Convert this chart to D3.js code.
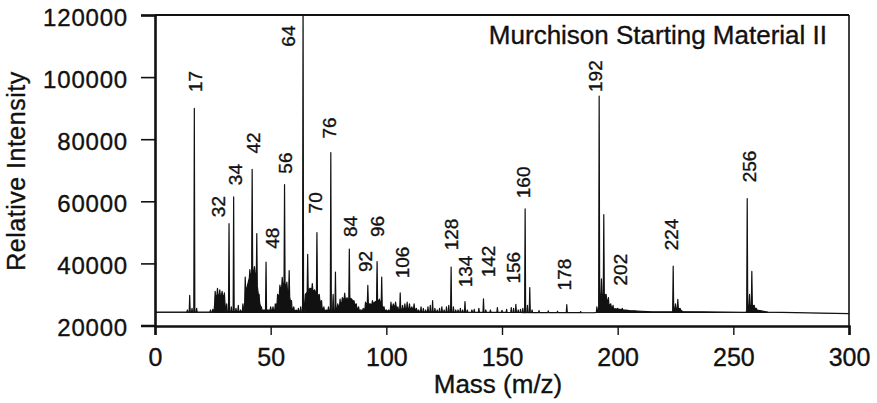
<!DOCTYPE html>
<html>
<head>
<meta charset="utf-8">
<script src="https://cdn.jsdelivr.net/npm/d3@7"></script>
<style>
  html, body { margin: 0; padding: 0; background: #fff; }
  svg { display: block; }
  text { font-family: "Liberation Sans", Arial, Helvetica, sans-serif; fill: #111; stroke: #111; stroke-width: 0.35px; }
</style>
</head>
<body>
<svg id="chart" width="877" height="403"></svg>
<script>
// ---------------- data ----------------
const title = "Murchison Starting Material II";
const xTitle = "Mass (m/z)";
const yTitle = "Relative Intensity";
const xTicks = [0, 50, 100, 150, 200, 250, 300];
const yTicks = [20000, 40000, 60000, 80000, 100000, 120000];

// slowly varying floor of the spectrum (dense unresolved clusters)
const floorMass = [0, 25.5, 26, 27, 28, 29, 30, 30.6, 38.5, 39, 40, 41, 42, 43, 44, 45, 46,
  52, 53, 54, 55, 56, 57, 58, 59, 60, 64.5, 65, 66, 67, 68, 69, 70, 71, 72, 73,
  78, 79, 80, 81, 82, 83, 84, 85, 86, 87, 88, 90.5, 91, 92, 93, 94, 95, 96, 97, 98, 99,
  101.5, 102, 104, 105, 108, 112, 114, 150, 190, 191.5, 192.5, 194.5, 196, 198, 205, 215,
  223.5, 224.5, 226.5, 228, 255.5, 256.5, 258.5, 260, 265, 300];
const floorLevel = [24300, 24300, 29000, 30000, 29500, 30000, 29000, 24500, 24500, 30000, 33000, 36000, 37000, 38000, 34000, 28000, 25000,
  25000, 28000, 31000, 33000, 34000, 32000, 30000, 26000, 24800, 24500, 30000, 31000, 32000, 31500, 31000, 30500, 29000, 26000, 24800,
  25000, 26000, 26500, 28000, 29000, 28000, 29000, 28500, 27500, 26000, 25000, 24800, 26500, 27500, 26500, 27000, 27500, 28000, 28000, 27000, 25000,
  24500, 26000, 26500, 25000, 25500, 25500, 24400, 24200, 24100, 24300, 30000, 30000, 27000, 25500, 24800, 24400,
  24400, 25500, 25500, 24500, 24200, 26500, 26500, 25000, 24300, 23800];

// peak masses and peak-top intensities
const peakMass = [14, 15, 16, 17, 18, 24, 25, 26, 27, 28, 29, 30, 31, 32, 33, 34, 35, 36, 37, 38, 39, 40,
  41, 42, 43, 44, 45, 46, 47, 48, 49, 50, 51, 52, 53, 54, 55, 56, 57, 58, 59, 60, 61, 62, 63, 64,
  65, 66, 67, 68, 69, 70, 71, 72, 73, 74, 75, 76, 77, 78, 79, 80, 81, 82, 83, 84, 85, 86, 87, 88,
  89, 90, 91, 92, 93, 94, 95, 96, 97, 98, 99, 100,
  101, 102, 103, 104, 105, 106, 107, 108, 109, 110, 111, 112, 113, 114, 115, 116, 117, 118, 119, 120,
  121, 122, 123, 124, 125, 126, 127, 128, 129, 130, 131, 132, 133, 134, 135, 137, 138, 140, 142, 143,
  145, 148, 150, 152, 154, 155, 156, 157, 158, 159, 160, 161, 162, 163, 166, 170, 174, 178, 184,
  191, 192, 193, 194, 195, 196, 197, 198, 200, 202, 204, 208, 224, 225, 226, 227, 256, 257, 258, 259, 260];
const peakIntensity = [25000, 29700, 25500, 89900, 25500, 25000, 25200, 31000, 32000, 31500, 31000, 30500, 27000, 52800, 26000, 61400, 25500, 26500, 25000, 27000, 35600, 30000,
  38000, 70300, 39000, 49600, 30000, 26000, 25000, 40400, 25000, 26000, 26000, 27000, 30000, 33000, 35500, 65400, 34000, 37700, 28000, 26000, 25000, 25500, 26000, 125000,
  29000, 42900, 32000, 33500, 31500, 49900, 30000, 28000, 26000, 25000, 26000, 75700, 30000, 37200, 27000, 28500, 29000, 30400, 29000, 44600, 28500, 28000, 27000, 26000,
  25000, 25500, 27500, 32900, 27000, 28000, 27500, 40600, 28500, 35600, 26000, 25000,
  25000, 27500, 27000, 27500, 26000, 30500, 26500, 27000, 27500, 27000, 26000, 27000, 25500, 25000, 26000, 25500, 25000, 26000, 26500, 28000,
  25500, 25000, 25500, 26000, 25000, 26000, 26500, 38800, 26000, 25000, 25000, 25500, 25000, 27700, 25000, 25000, 25200, 25500, 28600, 25000,
  25000, 25800, 24900, 25200, 25800, 25500, 26800, 25000, 25200, 25500, 57600, 26500, 32200, 25000, 24800, 24700, 24600, 26700, 24500,
  26000, 93900, 35000, 55700, 30000, 29000, 27000, 26500, 25500, 25500, 24700, 24500, 39100, 27000, 28400, 25500, 60900, 30000, 37400, 26500, 25500];

// peak annotations: text, and label anchor (mass, intensity) at its lower centre
const labelText = ["17", "32", "34", "42", "48", "56", "64", "70", "76", "84", "92", "96", "106", "128",
  "134", "142", "156", "160", "178", "192", "202", "224", "256"];
const labelMass = [17.3, 27.2, 34.6, 42.4, 50.6, 56.2, 57.5, 69.2, 75.2, 84.3, 90.8, 96.0, 106.8, 128.0,
  134.0, 144.0, 154.8, 159.1, 176.8, 190.2, 201.0, 223.1, 256.8];
const labelIntensity = [95200, 54900, 65200, 75400, 44700, 68900, 109800, 56100, 80200, 48500, 37200, 48500, 35200, 44200,
  32300, 35500, 33500, 61000, 31300, 95200, 32900, 44200, 66100];

// ---------------- layout ----------------
const L = 155, R = 849, T = 15, B = 326;
const svg = d3.select("#chart");
svg.append("rect").attr("width", 877).attr("height", 403).attr("fill", "#fff");

const x = d3.scaleLinear().domain([0, 300]).range([L, R]);
const y = d3.scaleLinear().domain([20000, 120000]).range([B - 0.5, T]);
const floor = d3.scaleLinear().domain(floorMass).range(floorLevel).clamp(true);

// build trace points
const hw = 0.22;
const pts = [];
floorMass.forEach(m => {
  if (!peakMass.some(p => Math.abs(p - m) < hw + 0.05)) pts.push([m, floor(m)]);
});
peakMass.forEach((m, i) => {
  pts.push([m - hw, floor(m - hw)]);
  pts.push([m, Math.max(peakIntensity[i], floor(m))]);
  pts.push([m + hw, floor(m + hw)]);
});
pts.sort((a, b) => a[0] - b[0]);

svg.append("clipPath").attr("id", "plotclip")
  .append("rect").attr("x", L).attr("y", T).attr("width", R - L).attr("height", B - T);

const g = svg.append("g").attr("clip-path", "url(#plotclip)");
g.append("path")
  .datum(pts)
  .attr("fill", "#111")
  .attr("d", d3.area().x(d => x(d[0])).y0(y(24000)).y1(d => y(d[1])));
g.append("path")
  .datum(pts)
  .attr("fill", "none")
  .attr("stroke", "#111")
  .attr("stroke-width", 1.2)
  .attr("stroke-linejoin", "round")
  .attr("d", d3.line().x(d => x(d[0])).y(d => y(d[1])));

// frame
svg.append("line").attr("x1", L).attr("x2", R).attr("y1", T).attr("y2", T)
  .attr("stroke", "#111").attr("stroke-width", 2);
svg.append("line").attr("x1", R).attr("x2", R).attr("y1", T).attr("y2", B)
  .attr("stroke", "#111").attr("stroke-width", 1.6);

// axes
const yAxis = svg.append("g").attr("transform", `translate(${L},0)`)
  .call(d3.axisLeft(y).tickValues(yTicks).tickSize(14).tickPadding(13).tickFormat(d3.format("d")));
yAxis.select(".domain").attr("stroke", "#111").attr("stroke-width", 2.6);
yAxis.selectAll(".tick line").attr("stroke", "#111").attr("stroke-width", 1.6);
yAxis.selectAll(".tick text")
  .attr("dy", "0.42em")
  .style("font-family", "'Liberation Sans', Arial, sans-serif")
  .style("font-size", "24px")
  .style("letter-spacing", "0.8px")
  .attr("fill", "#111");

const xAxis = svg.append("g").attr("transform", `translate(0,${B})`)
  .call(d3.axisBottom(x).tickValues(xTicks).tickSize(9).tickPadding(13).tickFormat(d3.format("d")));
xAxis.select(".domain").attr("stroke", "#111").attr("stroke-width", 2.6);
xAxis.selectAll(".tick line").attr("stroke", "#111").attr("stroke-width", 1.4);
xAxis.selectAll(".tick text")
  .style("font-family", "'Liberation Sans', Arial, sans-serif")
  .style("font-size", "25px")
  .attr("fill", "#111");

// titles
svg.append("text").attr("x", 827).attr("y", 44).attr("text-anchor", "end")
  .style("font-size", "26px").text(title);
svg.append("text").attr("x", 498).attr("y", 393).attr("text-anchor", "middle")
  .style("font-size", "26px").text(xTitle);
svg.append("text").attr("transform", "translate(25,171) rotate(-90)").attr("text-anchor", "middle")
  .style("font-size", "25px").style("letter-spacing", "0.5px").text(yTitle);

// peak labels
const capHalf = 19 * 0.716 / 2;
svg.append("g").selectAll("text")
  .data(labelText)
  .join("text")
  .attr("transform", (d, i) => `translate(${x(labelMass[i]) + capHalf},${y(labelIntensity[i])}) rotate(-90)`)
  .attr("text-anchor", "start")
  .style("font-size", "19px")
  .text(d => d);
</script>
</body>
</html>
